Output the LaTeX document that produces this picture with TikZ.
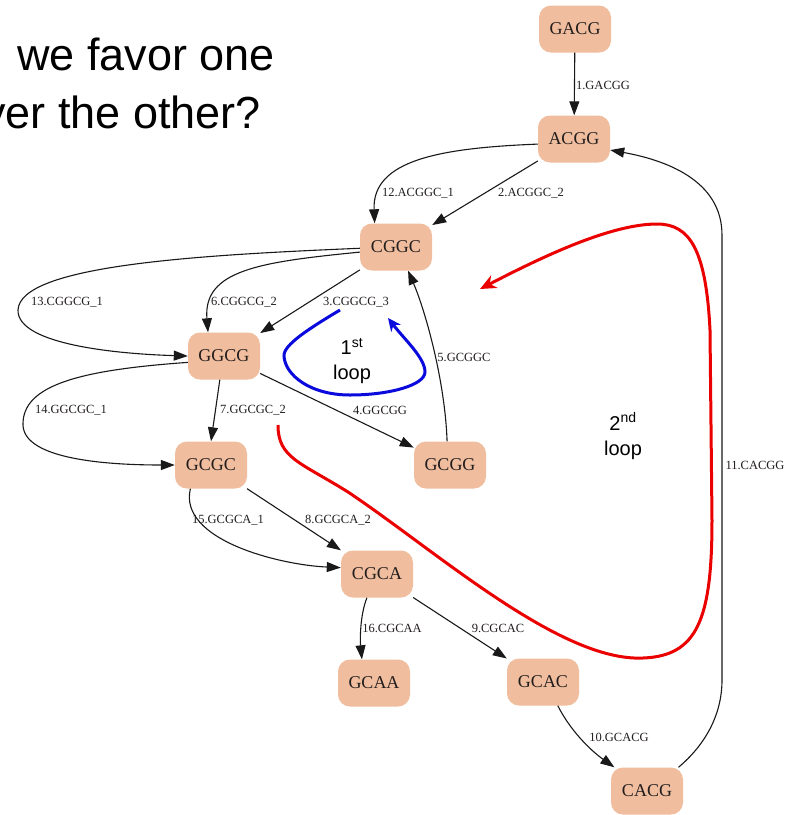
\documentclass[tikz,border=0pt]{standalone}
\usepackage{fontspec}
\setmainfont{Liberation Serif}
\newfontfamily\sansf{Liberation Sans}
\usetikzlibrary{arrows.meta}
\definecolor{peach}{RGB}{240,190,158}
\definecolor{ink}{RGB}{35,30,30}
\definecolor{loopred}{RGB}{235,0,0}
\definecolor{loopblue}{RGB}{10,10,220}
\tikzset{
  nd/.style={rectangle, rounded corners=12pt, fill=peach, minimum width=72pt, minimum height=47pt, inner sep=0pt, text=ink, font=\fontsize{18}{20}\selectfont},
  edge/.style={draw=black!90, line width=1.1pt, -{Triangle[length=14pt,width=10pt]}},
  lbl/.style={font=\fontsize{12.5}{14}\selectfont, text=ink, inner sep=0pt},
  looptxt/.style={font=\sansf\fontsize{20}{25}\selectfont, align=center, inner sep=0pt},
  redline/.style={draw=loopred, line width=3pt, -{Stealth[length=16pt,width=14pt,inset=5pt]}},
  blueline/.style={draw=loopblue, line width=3pt, -{Stealth[length=13pt,width=12pt,inset=4pt]}},
  title/.style={font=\sansf\fontsize{45}{50}\selectfont, inner sep=0pt}
}
\begin{document}
\begin{tikzpicture}[x=1pt,y=-1pt]
\useasboundingbox (0,0) rectangle (794,815);
\fill[white] (0,0) rectangle (794,815);

% title fragments (cut at the left edge, as in the reference)
\node[title, anchor=base west] (t1) at (17,70) {we favor one};
\node[title, anchor=base east] (t2) at (261,128) {ver the other?};

% nodes
\node[nd] (GACG) at (575,29) {GACG};
\node[nd] (ACGG) at (574,139) {ACGG};
\node[nd] (CGGC) at (396,247) {CGGC};
\node[nd] (GGCG) at (224,356) {GGCG};
\node[nd] (GCGC) at (211,465) {GCGC};
\node[nd] (GCGG) at (450,465) {GCGG};
\node[nd] (CGCA) at (377,574) {CGCA};
\node[nd] (GCAA) at (374,683) {GCAA};
\node[nd] (GCAC) at (543,682) {GCAC};
\node[nd] (CACG) at (647,791) {CACG};

% edges
\draw[edge] (GACG) -- (ACGG);
\draw[edge] (ACGG) -- (CGGC);
\draw[edge] (ACGG.188) .. controls (440,148) and (372,160) .. (CGGC.132);
\draw[edge] (CGGC) -- (GGCG);
\draw[edge] (CGGC.188) .. controls (260,262) and (203,270) .. (GGCG.124);
\draw[edge] (CGGC.182) .. controls (200,255) and (20,265) .. (18,310) .. controls (17,345) and (120,354) .. (GGCG.west);
\draw[edge] (GGCG) -- (GCGG);
\draw[edge] (GCGG.97) .. controls (445,380) and (425,310) .. (CGGC.297);
\draw[edge] (GGCG.260) -- (GCGC.north);
\draw[edge] (GGCG.190) .. controls (80,370) and (22,385) .. (23,425) .. controls (24,460) and (110,465) .. (GCGC.west);
\draw[edge] (GCGC) -- (CGCA);
\draw[edge] (GCGC.229) .. controls (178,540) and (280,565) .. (CGCA.170);
\draw[edge] (CGCA.247) .. controls (360,615) and (360,640) .. (GCAA.117);
\draw[edge] (CGCA) -- (GCAC);
\draw[edge] (GCAC.302) .. controls (570,730) and (590,750) .. (CACG.144);
\draw[edge] (CACG.37) .. controls (705,745) and (722,715) .. (722,680) -- (722,235) .. controls (722,180) and (665,160) .. (ACGG.343);

% edge labels
\node[lbl] (l1) at (603,85) {1.GACGG};
\node[lbl] (l2) at (531,193) {2.ACGGC\_2};
\node[lbl] (l12) at (418,193) {12.ACGGC\_1};
\node[lbl] (l3) at (356,302) {3.CGGCG\_3};
\node[lbl] (l6) at (244,302) {6.CGGCG\_2};
\node[lbl] (l13) at (67,302) {13.CGGCG\_1};
\node[lbl] (l4) at (380,410) {4.GGCGG};
\node[lbl] (l5) at (464,357) {5.GCGGC};
\node[lbl] (l7) at (253,410) {7.GGCGC\_2};
\node[lbl] (l14) at (71,410) {14.GGCGC\_1};
\node[lbl] (l8) at (338,520) {8.GCGCA\_2};
\node[lbl] (l15) at (228,520) {15.GCGCA\_1};
\node[lbl] (l16) at (392,628) {16.CGCAA};
\node[lbl] (l9) at (498,628) {9.CGCAC};
\node[lbl] (l10) at (619,737) {10.GCACG};
\node[lbl] (l11) at (755,465) {11.CACGG};

% loops
\coordinate (r0) at (278,425);
\coordinate (r1) at (480,289);
\draw[redline] (r0) .. controls (278,458) and (300,462) .. (348,492)
  .. controls (435,550) and (560,662) .. (643,658)
  .. controls (697,656) and (712,620) .. (712,520)
  -- (710,330) .. controls (706,250) and (690,224) .. (657,224)
  .. controls (610,224) and (540,258) .. (r1);
\coordinate (b0) at (340,310);
\coordinate (b1) at (388,318);
\draw[blueline] (b0) .. controls (310,328) and (283,345) .. (284,356)
  .. controls (285,375) and (310,395) .. (350,395)
  .. controls (390,395) and (425,385) .. (425,372)
  .. controls (425,358) and (405,340) .. (b1);

\node[looptxt] (loop1) at (352,361) {1\textsuperscript{st}\\loop};
\node[looptxt] (loop2) at (623,436) {2\textsuperscript{nd}\\loop};
\end{tikzpicture}
\end{document}
